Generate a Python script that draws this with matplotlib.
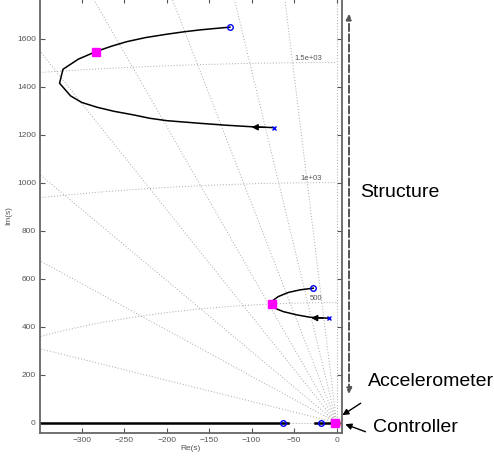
import matplotlib
matplotlib.use("Agg")
import matplotlib.pyplot as plt
import numpy as np

plt.rcParams["font.family"] = ["Liberation Sans", "DejaVu Sans"]

# root locus branches (pole -> zero)
upper_re = [-74, -102, -130, -161, -200, -220, -239, -262, -282, -300, -313, -326,
            -322, -304, -283, -265, -247, -225, -200, -180, -161, -143, -125.5]
upper_im = [1229, 1233, 1239, 1247, 1258, 1268, 1282, 1297, 1314, 1334, 1361, 1414,
            1472, 1514, 1546, 1568, 1587, 1604, 1618, 1628, 1636, 1642, 1647.5]
middle_re = [-9.4, -31.4, -47, -62.8, -72.6, -76.5, -74.5, -68.7, -57, -43.2, -27.5]
middle_im = [435, 439, 449, 462.5, 476.7, 493, 510, 525, 542, 553, 560]
real_left = [-349, -57]
real_right = [-25, 0]

zeros_re = [-125.5, -27.5, -63.5, -18.8]
zeros_im = [1647.5, 560, 0, 0]
poles_re = [-74, -9.4]
poles_im = [1229, 435]
ctrl_pole_re = [2]
ctrl_pole_im = [0]
closed_re = [-283, -76.5, -1.5]
closed_im = [1546, 493, 0]

# arrow heads on the branches (tail, tip)
arrow_tails = [(-84, 1230), (-16, 435)]
arrow_tips = [(-100, 1231), (-30, 436)]

# s-plane grid
zetas = [0, 0.0345, 0.068, 0.109, 0.16, 0.22, 0.32, 0.46, 0.75, 1.0]
wns = [500, 1000, 1500]
wn_labels = ["500", "1e+03", "1.5e+03"]

xticks = [-300, -250, -200, -150, -100, -50, 0]
yticks = [0, 200, 400, 600, 800, 1000, 1200, 1400, 1600]

fig = plt.figure(figsize=(4.94, 4.61), dpi=100)
ax = fig.add_axes([0.081, 0.0614, 0.6107, 0.9419])

grid_kw = dict(color="#a8a8a8", linestyle=(0, (1, 2)), linewidth=0.7, zorder=1)
for z in zetas:
    r = 4000
    ax.plot([0, -r * z], [0, r * np.sqrt(1 - z ** 2)], **grid_kw)
t = np.linspace(0, np.pi / 2, 200)
for wn, lab in zip(wns, wn_labels):
    ax.plot(-wn * np.cos(t), wn * np.sin(t), **grid_kw)
    ax.text(-17, wn + 18, lab, fontsize=5.5, color="#555555", ha="right", va="center")

ax.plot(real_left, [0, 0], color="k", linewidth=1.8, zorder=2)
ax.plot(real_right, [0, 0], color="k", linewidth=1.8, zorder=2)
ax.plot(upper_re, upper_im, color="k", linewidth=1.1, zorder=2)
ax.plot(middle_re, middle_im, color="k", linewidth=1.1, zorder=2)

for tail, tip in zip(arrow_tails, arrow_tips):
    ax.annotate("", xy=tip, xytext=tail,
                arrowprops=dict(arrowstyle="-|>", color="k", lw=1.0,
                                mutation_scale=9, shrinkA=0, shrinkB=0))

ax.plot(zeros_re, zeros_im, "o", mfc="none", mec="#0000ff", ms=4, mew=1.0, zorder=3)
ax.plot(poles_re, poles_im, "x", color="#0000ff", ms=3.5, mew=1.0, zorder=3)
ax.plot(ctrl_pole_re, ctrl_pole_im, "x", color="#ff0000", ms=3.5, mew=1.0, zorder=3)
ax.plot(closed_re, closed_im, "s", color="#ff00ff", ms=5.5, zorder=4)

ax.set_xlim(-349, 6)
ax.set_ylim(-42, 1767)
ax.set_xticks(xticks)
ax.set_yticks(yticks)
ax.tick_params(direction="in", length=3.5, width=0.8, colors="#555555",
               labelsize=6, top=True, right=True, pad=3)
for s in ax.spines.values():
    s.set_color("#666666")
    s.set_linewidth(1.3)
ax.set_xlabel("Re(s)", fontsize=6, color="#555555", labelpad=1)
ax.set_ylabel("Im(s)", fontsize=6, color="#555555", labelpad=3)

# annotations outside the axes
fig.patches.append(matplotlib.patches.FancyArrowPatch(
    (0.7065, 0.1395), (0.7065, 0.976), transform=fig.transFigure,
    arrowstyle="<|-|>", mutation_scale=8, color="#555555", linestyle="--",
    linewidth=1.4))
fig.text(0.7287, 0.5733, "Structure", fontsize=14, va="baseline")
fig.text(0.744, 0.1627, "Accelerometer", fontsize=14, va="baseline")
fig.text(0.755, 0.0636, "Controller", fontsize=14, va="baseline")
fig.patches.append(matplotlib.patches.FancyArrowPatch(
    (0.7348, 0.1286), (0.6883, 0.0961), transform=fig.transFigure,
    arrowstyle="-|>", mutation_scale=9, color="k", linewidth=1.0))
fig.patches.append(matplotlib.patches.FancyArrowPatch(
    (0.745, 0.0614), (0.6937, 0.0818), transform=fig.transFigure,
    arrowstyle="-|>", mutation_scale=9, color="k", linewidth=1.0))

fig.savefig("out.png", dpi=100)
